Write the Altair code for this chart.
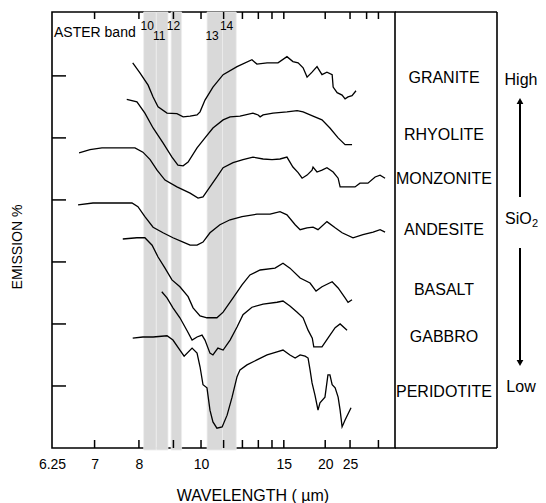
import altair as alt
import pandas as pd

# ---------------- data ----------------
rocks = ["GRANITE", "RHYOLITE", "MONZONITE", "ANDESITE", "BASALT", "GABBRO", "PERIDOTITE"]

# x values are wavenumbers (cm^-1); the axis is labelled in wavelength (um = 10000 / wavenumber)
granite_wn = [1275, 1246, 1213, 1193, 1173, 1137, 1097, 1072, 1044, 1016, 1004, 984, 952, 911, 855,
              795, 775, 734, 690, 654, 630, 609, 589, 573, 553, 533, 513, 493, 472, 468, 452, 432,
              420, 408, 392, 376]
granite_em = [62.1, 60.5, 58.5, 56.6, 55.0, 54.0, 53.9, 53.4, 53.5, 53.7, 54.2, 56.1, 58.2, 60.2, 61.5,
              62.6, 61.9, 62.1, 62.1, 63.1, 62.3, 62.1, 61.3, 59.8, 60.6, 61.5, 60.2, 60.6, 60.2, 58.2,
              57.3, 56.9, 56.3, 56.6, 56.8, 57.6]

rhyolite_wn = [1299, 1258, 1226, 1193, 1153, 1117, 1093, 1072, 1052, 1016, 984, 952, 911, 883, 843,
               791, 770, 762, 750, 710, 654, 613, 589, 549, 513, 481, 448, 420, 392]
rhyolite_em = [56.2, 55.8, 54.0, 51.6, 49.2, 46.9, 45.6, 45.5, 46.1, 48.4, 50.0, 51.6, 52.9, 53.4, 53.5,
               54.0, 53.7, 53.4, 53.7, 54.0, 54.2, 54.4, 54.2, 53.5, 52.9, 51.6, 50.0, 48.9, 48.9]

monzonite_wn = [1491, 1447, 1399, 1326, 1266, 1234, 1205, 1177, 1145, 1097, 1044, 1012, 992, 964, 936,
                911, 871, 831, 791, 750, 714, 682, 654, 630, 609, 593, 573, 553, 549, 533, 513, 493,
                468, 448, 440, 412, 380, 360, 328, 299, 279, 259]
monzonite_em = [47.6, 48.1, 48.4, 48.4, 48.4, 47.7, 46.5, 44.8, 43.2, 42.1, 41.1, 40.3, 40.5, 42.1, 43.7,
                45.2, 46.0, 46.5, 46.9, 46.6, 46.5, 46.6, 46.9, 45.3, 44.4, 43.5, 44.0, 44.8, 45.3, 44.5,
                44.8, 45.2, 44.5, 43.5, 42.1, 42.1, 42.1, 42.7, 42.7, 43.7, 44.0, 43.5]

andesite_wn = [1495, 1435, 1366, 1278, 1254, 1226, 1193, 1153, 1113, 1072, 1044, 1016, 992, 964, 924,
               883, 835, 775, 722, 682, 654, 621, 601, 573, 549, 529, 493, 460, 432, 388, 348, 307,
               279, 259]
andesite_em = [39.2, 39.5, 39.5, 39.5, 38.9, 37.3, 35.6, 34.7, 33.9, 33.2, 32.7, 32.7, 33.2, 34.7, 36.0,
               36.8, 37.3, 37.7, 37.7, 38.1, 37.6, 36.0, 35.2, 35.5, 35.6, 35.2, 36.5, 35.5, 34.7, 33.9,
               34.4, 34.8, 35.2, 34.8]

basalt_wn = [1315, 1258, 1226, 1197, 1173, 1145, 1117, 1085, 1052, 1032, 1004, 976, 936, 911, 871,
             835, 803, 762, 702, 670, 642, 601, 561, 537, 513, 472, 448, 420, 408, 392]
basalt_em = [33.7, 33.9, 33.9, 32.7, 30.8, 29.0, 27.1, 26.0, 24.4, 22.6, 21.3, 21.0, 21.0, 21.9, 24.2,
             26.3, 27.9, 28.7, 29.0, 29.8, 29.0, 27.4, 26.6, 25.3, 26.0, 26.8, 25.8, 24.2, 23.5, 23.9]

gabbro_wn = [1158, 1137, 1113, 1085, 1056, 1036, 1016, 996, 984, 964, 952, 932, 911, 883, 855,
             831, 795, 750, 694, 670, 642, 613, 589, 569, 552, 546, 513, 489, 460, 440, 412]
gabbro_em = [25.2, 24.2, 22.6, 21.0, 18.9, 17.4, 17.9, 18.2, 17.4, 15.3, 15.0, 16.1, 15.8, 17.4, 19.5,
             21.5, 22.7, 23.2, 23.5, 23.7, 22.9, 21.9, 21.0, 19.0, 17.7, 16.3, 16.3, 17.7, 19.4, 20.0,
             19.0]

peridotite_wn = [1275, 1234, 1193, 1137, 1113, 1085, 1068, 1036, 1016, 1004, 992, 976, 964, 952, 936,
                 915, 895, 875, 855, 843, 815, 775, 734, 694, 670, 642, 621, 601, 581, 569, 561, 553,
                 541, 529, 521, 501, 489, 481, 472, 460, 448, 440, 432, 420, 396]
peridotite_em = [17.7, 17.9, 17.9, 18.1, 17.4, 15.8, 14.8, 16.1, 15.3, 13.1, 10.2, 9.7, 6.1, 4.2, 3.2,
                 3.4, 5.3, 8.2, 11.5, 12.6, 13.4, 14.2, 15.0, 15.5, 15.8, 15.0, 14.5, 15.0, 14.8, 14.5,
                 12.6, 10.5, 8.5, 6.1, 7.3, 8.2, 11.8, 11.8, 10.2, 9.7, 8.2, 6.1, 3.4, 4.5, 6.5]

rock_label_level = [59.7, 50.5, 43.4, 35.2, 25.5, 17.9, 9.0]

band_ids = ["10", "11", "12", "13", "14"]
band_lo_um = [8.125, 8.475, 8.925, 10.25, 10.95]
band_hi_um = [8.475, 8.825, 9.275, 10.95, 11.65]

labeled_um = [6.25, 7, 8, 10, 15, 20, 25]
bottom_tick_um = [7, 8, 9, 10, 11, 12, 13, 14, 15, 20, 25, 35]
top_tick_um = [7, 8, 9, 10, 11, 12, 13, 14, 15, 20, 25, 30, 35]
emission_ticks = [10, 20, 30, 40, 50, 60]

# ---------------- tables ----------------
series = {
    "GRANITE": (granite_wn, granite_em),
    "RHYOLITE": (rhyolite_wn, rhyolite_em),
    "MONZONITE": (monzonite_wn, monzonite_em),
    "ANDESITE": (andesite_wn, andesite_em),
    "BASALT": (basalt_wn, basalt_em),
    "GABBRO": (gabbro_wn, gabbro_em),
    "PERIDOTITE": (peridotite_wn, peridotite_em),
}
curves = pd.DataFrame([
    {"rock": r, "wn": w, "em": e}
    for r, (ws, es) in series.items() for w, e in zip(ws, es)
])
labels_df = pd.DataFrame({"rock": rocks, "level": rock_label_level})
bands_df = pd.DataFrame({"band": band_ids, "lo_um": band_lo_um, "hi_um": band_hi_um})
bottom_df = pd.DataFrame({"um": bottom_tick_um})
top_df = pd.DataFrame({"um": top_tick_um})
left_df = pd.DataFrame({"e": emission_ticks})
one = pd.DataFrame({"k": [0]})

W, H = 343, 436
FONT = "Liberation Sans"

xs = alt.Scale(domain=[1600, 219], nice=False, zero=False)
ys = alt.Scale(domain=[0, 70.3], nice=False, zero=False)
xaxis = alt.Axis(
    values=[10000 / u for u in labeled_um],
    labelExpr="format(10000 / datum.value, '.3~g')",
    ticks=False, domain=False, grid=False,
    labelFontSize=14, labelFont=FONT, labelColor="black", labelPadding=9,
    labelFlush=False, labelOverlap=False, labelBound=False, title=None,
)

def X(field):
    return alt.X(field, scale=xs, axis=xaxis)

bands = alt.Chart(bands_df).transform_calculate(
    lo="10000 / datum.lo_um", hi="10000 / datum.hi_um"
).mark_rect(color="#d9d9d9", stroke="#ececec", strokeWidth=0.8).encode(
    x=X("lo:Q"), x2="hi:Q", y=alt.value(0), y2=alt.value(H + 2)
)

band_text_base = alt.Chart(bands_df).transform_calculate(
    mid="10000 / ((datum.lo_um + datum.hi_um) / 2)"
)
band_hi_row = band_text_base.transform_filter(
    "indexof(['10', '12', '14'], datum.band) >= 0"
).mark_text(fontSize=12, font=FONT, color="black", fill="black", dx=-3, baseline="middle").encode(
    x=X("mid:Q"), y=alt.value(14), text="band:N"
)
band_lo_row = band_text_base.transform_filter(
    "indexof(['11', '13'], datum.band) >= 0"
).mark_text(fontSize=12, font=FONT, color="black", fill="black", dx=-3, baseline="middle").encode(
    x=X("mid:Q"), y=alt.value(24), text="band:N"
)

lines = alt.Chart(curves).mark_line(color="black", strokeWidth=1.3).encode(
    x=X("wn:Q"), y=alt.Y("em:Q", scale=ys, axis=None), detail="rock:N"
)

rock_text = alt.Chart(labels_df).mark_text(
    fontSize=16, font=FONT, color="black", align="center", baseline="middle"
).encode(
    x=alt.value(392), y=alt.Y("level:Q", scale=ys, axis=None), text="rock:N"
)

tick_style = dict(color="black", strokeWidth=1.5)
bottom_ticks = alt.Chart(bottom_df).transform_calculate(wn="10000 / datum.um").mark_rule(**tick_style).encode(
    x=X("wn:Q"), y=alt.value(H), y2=alt.value(H - 8)
)
top_ticks = alt.Chart(top_df).transform_calculate(wn="10000 / datum.um").mark_rule(**tick_style).encode(
    x=X("wn:Q"), y=alt.value(0), y2=alt.value(7)
)
left_ticks = alt.Chart(left_df).mark_rule(**tick_style).encode(
    y=alt.Y("e:Q", scale=ys, axis=None), x=alt.value(0), x2=alt.value(14)
)

frame = dict(color="black", strokeWidth=1.6)
box_top = alt.Chart(one).mark_rule(**frame).encode(x=alt.value(W), x2=alt.value(W + 102), y=alt.value(0))
box_bot = alt.Chart(one).mark_rule(**frame).encode(x=alt.value(W), x2=alt.value(W + 102), y=alt.value(H))
box_right = alt.Chart(one).mark_rule(**frame).encode(x=alt.value(W + 102), y=alt.value(0), y2=alt.value(H))

def txt(s, x, y, size=16, align="center", angle=0):
    return alt.Chart(one).mark_text(
        text=s, fontSize=size, font=FONT, color="black", align=align, baseline="middle", angle=angle
    ).encode(x=alt.value(x), y=alt.value(y))

aster = txt("ASTER band", 2, 21, size=14, align="left")
high = txt("High", 469, 68)
sio = txt("SiO", 453, 207, align="left")
sio2 = txt("2", 480, 212, size=11, align="left")
low = txt("Low", 469, 375)
ytitle = txt("EMISSION %", -34, 235, size=14, angle=270)
xtitle = txt("WAVELENGTH ( \u00b5m)", 201, 484)

AX = 468
arrow_style = dict(color="black", strokeWidth=2)
up_shaft = alt.Chart(one).mark_rule(**arrow_style).encode(x=alt.value(AX), y=alt.value(90), y2=alt.value(185))
up_head = alt.Chart(one).mark_point(shape="triangle-up", filled=True, color="black", size=45, opacity=1).encode(
    x=alt.value(AX), y=alt.value(89)
)
dn_shaft = alt.Chart(one).mark_rule(**arrow_style).encode(x=alt.value(AX), y=alt.value(236), y2=alt.value(350))
dn_head = alt.Chart(one).mark_point(shape="triangle-down", filled=True, color="black", size=45, opacity=1).encode(
    x=alt.value(AX), y=alt.value(351)
)

chart = alt.layer(
    bands, band_hi_row, band_lo_row, lines, rock_text,
    bottom_ticks, top_ticks, left_ticks,
    box_top, box_bot, box_right,
    aster, high, sio, sio2, low, ytitle, xtitle,
    up_shaft, up_head, dn_shaft, dn_head,
).properties(
    width=W, height=H,
    autosize=alt.AutoSizeParams(type="none"),
    padding={"left": 44, "top": 4, "right": 143, "bottom": 55},
    background="white",
).configure_view(stroke="black", strokeWidth=1.6)

chart.save("out.html", embed_options={"renderer": "svg", "actions": False})
